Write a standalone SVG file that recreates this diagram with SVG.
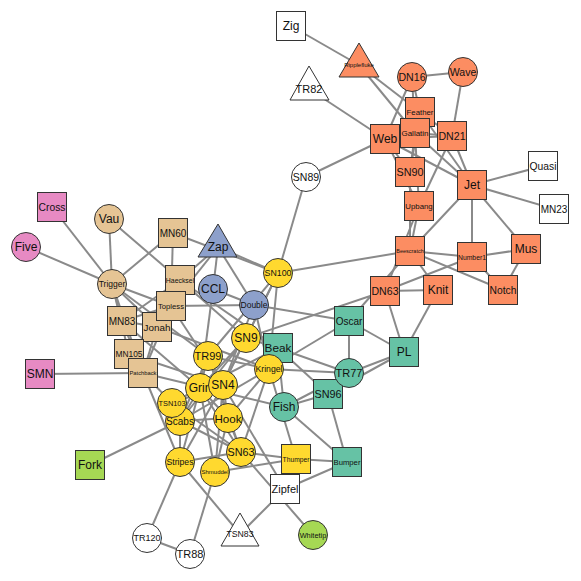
<svg xmlns="http://www.w3.org/2000/svg" width="581" height="581" viewBox="0 0 581 581">
<style>
.e line{stroke:#8a8a8a;stroke-width:2;fill:none}
.n rect,.n circle,.n polygon{stroke:#333;stroke-width:1}
text{font-family:"Liberation Sans",Arial,sans-serif;fill:#111;text-anchor:middle;dominant-baseline:central}
.o{fill:#FC8D62}.g{fill:#66C2A5}.b{fill:#8DA0CB}.p{fill:#E78AC3}.l{fill:#A6D854}.y{fill:#FFD92F}.t{fill:#E5C494}.w{fill:#fff}
</style>
<rect width="581" height="581" fill="#fff"/>
<g class="e" id="edges">
<line x1="254" y1="305" x2="213" y2="289"/>
<line x1="420" y1="112" x2="412" y2="77"/>
<line x1="420" y1="112" x2="452" y2="136"/>
<line x1="284" y1="407" x2="278" y2="348"/>
<line x1="284" y1="407" x2="347" y2="462"/>
<line x1="415" y1="133" x2="412" y2="77"/>
<line x1="415" y1="133" x2="452" y2="136"/>
<line x1="415" y1="133" x2="420" y2="112"/>
<line x1="200" y1="388" x2="278" y2="348"/>
<line x1="200" y1="388" x2="213" y2="289"/>
<line x1="180" y1="280" x2="278" y2="348"/>
<line x1="228" y1="418" x2="200" y2="388"/>
<line x1="472" y1="185" x2="410" y2="251"/>
<line x1="472" y1="185" x2="452" y2="136"/>
<line x1="472" y1="185" x2="420" y2="112"/>
<line x1="472" y1="185" x2="415" y2="133"/>
<line x1="157" y1="327" x2="180" y2="280"/>
<line x1="438" y1="290" x2="410" y2="251"/>
<line x1="438" y1="290" x2="385" y2="291"/>
<line x1="269" y1="369" x2="254" y2="305"/>
<line x1="269" y1="369" x2="228" y2="418"/>
<line x1="269" y1="369" x2="157" y2="327"/>
<line x1="129" y1="354" x2="157" y2="327"/>
<line x1="554" y1="209" x2="472" y2="185"/>
<line x1="122" y1="321" x2="200" y2="388"/>
<line x1="122" y1="321" x2="180" y2="280"/>
<line x1="122" y1="321" x2="157" y2="327"/>
<line x1="526" y1="249" x2="472" y2="185"/>
<line x1="503" y1="290" x2="410" y2="251"/>
<line x1="503" y1="290" x2="526" y2="249"/>
<line x1="472" y1="257" x2="410" y2="251"/>
<line x1="472" y1="257" x2="385" y2="291"/>
<line x1="472" y1="257" x2="472" y2="185"/>
<line x1="472" y1="257" x2="526" y2="249"/>
<line x1="472" y1="257" x2="503" y2="290"/>
<line x1="349" y1="321" x2="410" y2="251"/>
<line x1="349" y1="321" x2="254" y2="305"/>
<line x1="349" y1="321" x2="269" y2="369"/>
<line x1="143" y1="373" x2="284" y2="407"/>
<line x1="143" y1="373" x2="157" y2="327"/>
<line x1="143" y1="373" x2="129" y2="354"/>
<line x1="143" y1="373" x2="122" y2="321"/>
<line x1="404" y1="352" x2="385" y2="291"/>
<line x1="404" y1="352" x2="438" y2="290"/>
<line x1="404" y1="352" x2="349" y2="321"/>
<line x1="543" y1="166" x2="472" y2="185"/>
<line x1="359" y1="65" x2="420" y2="112"/>
<line x1="359" y1="65" x2="415" y2="133"/>
<line x1="180" y1="421" x2="90" y2="465"/>
<line x1="180" y1="421" x2="200" y2="388"/>
<line x1="180" y1="421" x2="228" y2="418"/>
<line x1="180" y1="421" x2="269" y2="369"/>
<line x1="215" y1="472" x2="200" y2="388"/>
<line x1="215" y1="472" x2="228" y2="418"/>
<line x1="40" y1="374" x2="143" y2="373"/>
<line x1="278" y1="273" x2="410" y2="251"/>
<line x1="278" y1="273" x2="269" y2="369"/>
<line x1="278" y1="273" x2="173" y2="233"/>
<line x1="223" y1="385" x2="254" y2="305"/>
<line x1="223" y1="385" x2="200" y2="388"/>
<line x1="223" y1="385" x2="228" y2="418"/>
<line x1="223" y1="385" x2="129" y2="354"/>
<line x1="223" y1="385" x2="215" y2="472"/>
<line x1="223" y1="385" x2="278" y2="273"/>
<line x1="241" y1="452" x2="200" y2="388"/>
<line x1="241" y1="452" x2="228" y2="418"/>
<line x1="241" y1="452" x2="269" y2="369"/>
<line x1="241" y1="452" x2="180" y2="421"/>
<line x1="306" y1="177" x2="278" y2="273"/>
<line x1="246" y1="338" x2="278" y2="348"/>
<line x1="246" y1="338" x2="385" y2="291"/>
<line x1="246" y1="338" x2="200" y2="388"/>
<line x1="246" y1="338" x2="180" y2="280"/>
<line x1="246" y1="338" x2="180" y2="421"/>
<line x1="246" y1="338" x2="278" y2="273"/>
<line x1="246" y1="338" x2="223" y2="385"/>
<line x1="410" y1="172" x2="410" y2="251"/>
<line x1="410" y1="172" x2="420" y2="112"/>
<line x1="410" y1="172" x2="415" y2="133"/>
<line x1="328" y1="394" x2="278" y2="348"/>
<line x1="328" y1="394" x2="347" y2="462"/>
<line x1="328" y1="394" x2="284" y2="407"/>
<line x1="328" y1="394" x2="404" y2="352"/>
<line x1="180" y1="462" x2="200" y2="388"/>
<line x1="180" y1="462" x2="143" y2="373"/>
<line x1="180" y1="462" x2="180" y2="421"/>
<line x1="180" y1="462" x2="223" y2="385"/>
<line x1="180" y1="462" x2="241" y2="452"/>
<line x1="296" y1="459" x2="347" y2="462"/>
<line x1="296" y1="459" x2="269" y2="369"/>
<line x1="296" y1="459" x2="215" y2="472"/>
<line x1="296" y1="459" x2="241" y2="452"/>
<line x1="171" y1="306" x2="254" y2="305"/>
<line x1="171" y1="306" x2="180" y2="280"/>
<line x1="171" y1="306" x2="157" y2="327"/>
<line x1="171" y1="306" x2="129" y2="354"/>
<line x1="171" y1="306" x2="173" y2="233"/>
<line x1="171" y1="306" x2="122" y2="321"/>
<line x1="171" y1="306" x2="143" y2="373"/>
<line x1="171" y1="306" x2="223" y2="385"/>
<line x1="147" y1="538" x2="180" y2="462"/>
<line x1="349" y1="373" x2="278" y2="348"/>
<line x1="349" y1="373" x2="284" y2="407"/>
<line x1="349" y1="373" x2="269" y2="369"/>
<line x1="349" y1="373" x2="349" y2="321"/>
<line x1="349" y1="373" x2="404" y2="352"/>
<line x1="349" y1="373" x2="328" y2="394"/>
<line x1="190" y1="554" x2="215" y2="472"/>
<line x1="190" y1="554" x2="147" y2="538"/>
<line x1="208" y1="356" x2="200" y2="388"/>
<line x1="208" y1="356" x2="228" y2="418"/>
<line x1="208" y1="356" x2="269" y2="369"/>
<line x1="208" y1="356" x2="180" y2="421"/>
<line x1="208" y1="356" x2="278" y2="273"/>
<line x1="208" y1="356" x2="223" y2="385"/>
<line x1="208" y1="356" x2="241" y2="452"/>
<line x1="112" y1="284" x2="52" y2="207"/>
<line x1="112" y1="284" x2="26" y2="247"/>
<line x1="112" y1="284" x2="157" y2="327"/>
<line x1="112" y1="284" x2="129" y2="354"/>
<line x1="112" y1="284" x2="173" y2="233"/>
<line x1="112" y1="284" x2="122" y2="321"/>
<line x1="112" y1="284" x2="143" y2="373"/>
<line x1="112" y1="284" x2="171" y2="306"/>
<line x1="112" y1="284" x2="208" y2="356"/>
<line x1="172" y1="403" x2="200" y2="388"/>
<line x1="172" y1="403" x2="143" y2="373"/>
<line x1="172" y1="403" x2="223" y2="385"/>
<line x1="172" y1="403" x2="241" y2="452"/>
<line x1="240" y1="534" x2="180" y2="462"/>
<line x1="419" y1="206" x2="410" y2="251"/>
<line x1="419" y1="206" x2="452" y2="136"/>
<line x1="419" y1="206" x2="385" y2="291"/>
<line x1="419" y1="206" x2="415" y2="133"/>
<line x1="109" y1="219" x2="180" y2="280"/>
<line x1="109" y1="219" x2="112" y2="284"/>
<line x1="463" y1="72" x2="412" y2="77"/>
<line x1="463" y1="72" x2="452" y2="136"/>
<line x1="385" y1="139" x2="412" y2="77"/>
<line x1="385" y1="139" x2="452" y2="136"/>
<line x1="385" y1="139" x2="420" y2="112"/>
<line x1="385" y1="139" x2="415" y2="133"/>
<line x1="385" y1="139" x2="472" y2="185"/>
<line x1="385" y1="139" x2="306" y2="177"/>
<line x1="385" y1="139" x2="410" y2="172"/>
<line x1="385" y1="139" x2="309" y2="89"/>
<line x1="385" y1="139" x2="419" y2="206"/>
<line x1="313" y1="535" x2="241" y2="452"/>
<line x1="218" y1="247" x2="213" y2="289"/>
<line x1="218" y1="247" x2="254" y2="305"/>
<line x1="218" y1="247" x2="180" y2="280"/>
<line x1="218" y1="247" x2="278" y2="273"/>
<line x1="218" y1="247" x2="171" y2="306"/>
<line x1="291" y1="26" x2="359" y2="65"/>
<line x1="285" y1="489" x2="347" y2="462"/>
<line x1="285" y1="489" x2="223" y2="385"/>
<line x1="285" y1="489" x2="240" y2="534"/>
</g>
<g class="n">
<g id="Zig"><rect class="w" x="276.5" y="11.5" width="29" height="29"/><text x="291" y="26" font-size="12">Zig</text></g>
<g id="Ripplefluke"><polygon class="o" points="359,43 339,77 379,77"/><text x="359" y="65" font-size="6">Ripplefluke</text></g>
<g id="TR82"><polygon class="w" points="309,66 290,100 329,100"/><text x="309" y="89" font-size="11">TR82</text></g>
<g id="DN16"><circle class="o" cx="412" cy="77" r="14.5"/><text x="412" y="77" font-size="10.6">DN16</text></g>
<g id="Wave"><circle class="o" cx="463" cy="72" r="14.5"/><text x="463" y="72" font-size="10.6">Wave</text></g>
<g id="Web"><rect class="o" x="370.5" y="124.5" width="29" height="29"/><text x="385" y="139" font-size="12">Web</text></g>
<g id="Feather"><rect class="o" x="405.5" y="97.5" width="29" height="29"/><text x="420" y="112" font-size="7.8">Feather</text></g>
<g id="Gallatin"><rect class="o" x="400.5" y="118.5" width="29" height="29"/><text x="415" y="133" font-size="8">Gallatin</text></g>
<g id="DN21"><rect class="o" x="437.5" y="121.5" width="29" height="29"/><text x="452" y="136" font-size="10.6">DN21</text></g>
<g id="SN90"><rect class="o" x="395.5" y="157.5" width="29" height="29"/><text x="410" y="172" font-size="10.8">SN90</text></g>
<g id="Jet"><rect class="o" x="457.5" y="170.5" width="29" height="29"/><text x="472" y="185" font-size="12">Jet</text></g>
<g id="Quasi"><rect class="w" x="528.5" y="151.5" width="29" height="29"/><text x="543" y="166" font-size="10.3">Quasi</text></g>
<g id="MN23"><rect class="w" x="539.5" y="194.5" width="29" height="29"/><text x="554" y="209" font-size="10">MN23</text></g>
<g id="Upbang"><rect class="o" x="404.5" y="191.5" width="29" height="29"/><text x="419" y="206" font-size="7.8">Upbang</text></g>
<g id="Beescratch"><rect class="o" x="395.5" y="236.5" width="29" height="29"/><text x="410" y="251" font-size="5.5">Beescratch</text></g>
<g id="Number1"><rect class="o" x="457.5" y="242.5" width="29" height="29"/><text x="472" y="257" font-size="6.8">Number1</text></g>
<g id="Mus"><rect class="o" x="511.5" y="234.5" width="29" height="29"/><text x="526" y="249" font-size="12">Mus</text></g>
<g id="DN63"><rect class="o" x="370.5" y="276.5" width="29" height="29"/><text x="385" y="291" font-size="10.6">DN63</text></g>
<g id="Knit"><rect class="o" x="423.5" y="275.5" width="29" height="29"/><text x="438" y="290" font-size="12">Knit</text></g>
<g id="Notch"><rect class="o" x="488.5" y="275.5" width="29" height="29"/><text x="503" y="290" font-size="10.3">Notch</text></g>
<g id="SN89"><circle class="w" cx="306" cy="177" r="14.5"/><text x="306" y="177" font-size="10.5">SN89</text></g>
<g id="SN100"><circle class="y" cx="278" cy="273" r="14.5"/><text x="278" y="273" font-size="8.8">SN100</text></g>
<g id="Zap"><polygon class="b" points="218,224 198,257 237,257"/><text x="218" y="247" font-size="12">Zap</text></g>
<g id="CCL"><circle class="b" cx="213" cy="289" r="14.5"/><text x="213" y="289" font-size="12">CCL</text></g>
<g id="Double"><circle class="b" cx="254" cy="305" r="14.5"/><text x="254" y="305" font-size="8.5">Double</text></g>
<g id="Oscar"><rect class="g" x="334.5" y="306.5" width="29" height="29"/><text x="349" y="321" font-size="10">Oscar</text></g>
<g id="PL"><rect class="g" x="389.5" y="337.5" width="29" height="29"/><text x="404" y="352" font-size="12">PL</text></g>
<g id="Beak"><rect class="g" x="263.5" y="333.5" width="29" height="29"/><text x="278" y="348" font-size="11.8">Beak</text></g>
<g id="SN96"><rect class="g" x="313.5" y="379.5" width="29" height="29"/><text x="328" y="394" font-size="10.8">SN96</text></g>
<g id="TR77"><circle class="g" cx="349" cy="373" r="14.5"/><text x="349" y="373" font-size="11">TR77</text></g>
<g id="Kringel"><circle class="y" cx="269" cy="369" r="14.5"/><text x="269" y="369" font-size="8.7">Kringel</text></g>
<g id="Fish"><circle class="g" cx="284" cy="407" r="14.5"/><text x="284" y="407" font-size="12">Fish</text></g>
<g id="Thumper"><rect class="y" x="281.5" y="444.5" width="29" height="29"/><text x="296" y="459" font-size="6.7">Thumper</text></g>
<g id="Bumper"><rect class="g" x="332.5" y="447.5" width="29" height="29"/><text x="347" y="462" font-size="7.7">Bumper</text></g>
<g id="Zipfel"><rect class="w" x="270.5" y="474.5" width="29" height="29"/><text x="285" y="489" font-size="11">Zipfel</text></g>
<g id="Whitetip"><circle class="l" cx="313" cy="535" r="14.5"/><text x="313" y="535" font-size="7.4">Whitetip</text></g>
<g id="TSN83"><polygon class="w" points="240,513 221,546 259,546"/><text x="240" y="534" font-size="8.7">TSN83</text></g>
<g id="TR120"><circle class="w" cx="147" cy="538" r="14.5"/><text x="147" y="538" font-size="9">TR120</text></g>
<g id="TR88"><circle class="w" cx="190" cy="554" r="14.5"/><text x="190" y="554" font-size="11">TR88</text></g>
<g id="Stripes"><circle class="y" cx="180" cy="462" r="14.5"/><text x="180" y="462" font-size="8.7">Stripes</text></g>
<g id="Shmuddel"><circle class="y" cx="215" cy="472" r="14.5"/><text x="215" y="472" font-size="6">Shmuddel</text></g>
<g id="SN63"><circle class="y" cx="241" cy="452" r="14.5"/><text x="241" y="452" font-size="10.8">SN63</text></g>
<g id="Hook"><circle class="y" cx="228" cy="418" r="14.5"/><text x="228" y="418" font-size="11.6">Hook</text></g>
<g id="Scabs"><circle class="y" cx="180" cy="421" r="14.5"/><text x="180" y="421" font-size="10">Scabs</text></g>
<g id="TSN103"><circle class="y" cx="172" cy="403" r="14.5"/><text x="172" y="403" font-size="7.4">TSN103</text></g>
<g id="Grin"><circle class="y" cx="200" cy="388" r="14.5"/><text x="200" y="388" font-size="12">Grin</text></g>
<g id="SN4"><circle class="y" cx="223" cy="385" r="14.5"/><text x="223" y="385" font-size="12">SN4</text></g>
<g id="TR99"><circle class="y" cx="208" cy="356" r="14.5"/><text x="208" y="356" font-size="11">TR99</text></g>
<g id="SN9"><circle class="y" cx="246" cy="338" r="14.5"/><text x="246" y="338" font-size="12">SN9</text></g>
<g id="MN60"><rect class="t" x="158.5" y="218.5" width="29" height="29"/><text x="173" y="233" font-size="10">MN60</text></g>
<g id="Haecksel"><rect class="t" x="165.5" y="265.5" width="29" height="29"/><text x="180" y="280" font-size="6.9">Haecksel</text></g>
<g id="MN83"><rect class="t" x="107.5" y="306.5" width="29" height="29"/><text x="122" y="321" font-size="10">MN83</text></g>
<g id="Jonah"><rect class="t" x="142.5" y="312.5" width="29" height="29"/><text x="157" y="327" font-size="9.9">Jonah</text></g>
<g id="Topless"><rect class="t" x="156.5" y="291.5" width="29" height="29"/><text x="171" y="306" font-size="7.7">Topless</text></g>
<g id="MN105"><rect class="t" x="114.5" y="339.5" width="29" height="29"/><text x="129" y="354" font-size="8.4">MN105</text></g>
<g id="Patchback"><rect class="t" x="128.5" y="358.5" width="29" height="29"/><text x="143" y="373" font-size="5.8">Patchback</text></g>
<g id="Vau"><circle class="t" cx="109" cy="219" r="14.5"/><text x="109" y="219" font-size="12">Vau</text></g>
<g id="Trigger"><circle class="t" cx="112" cy="284" r="14.5"/><text x="112" y="284" font-size="8.5">Trigger</text></g>
<g id="Cross"><rect class="p" x="37.5" y="192.5" width="29" height="29"/><text x="52" y="207" font-size="10.3">Cross</text></g>
<g id="Five"><circle class="p" cx="26" cy="247" r="14.5"/><text x="26" y="247" font-size="12">Five</text></g>
<g id="SMN"><rect class="p" x="25.5" y="359.5" width="29" height="29"/><text x="40" y="374" font-size="12">SMN</text></g>
<g id="Fork"><rect class="l" x="75.5" y="450.5" width="29" height="29"/><text x="90" y="465" font-size="12">Fork</text></g>
</g>
</svg>
